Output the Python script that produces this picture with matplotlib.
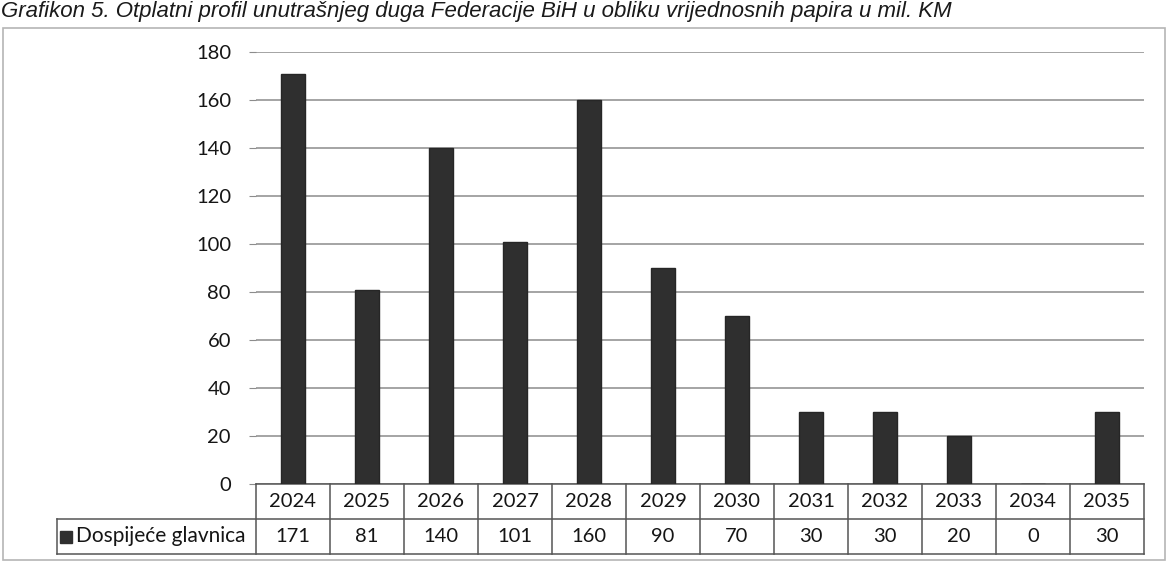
import matplotlib
matplotlib.use('Agg')
import matplotlib.pyplot as plt
from matplotlib.patches import Rectangle
from matplotlib.transforms import blended_transform_factory

# Data
years = ['2024', '2025', '2026', '2027', '2028', '2029', '2030', '2031', '2032', '2033', '2034', '2035']
glavnica = [171, 81, 140, 101, 160, 90, 70, 30, 30, 20, 0, 30]
series_name = 'Dospijeće glavnica'
title = 'Grafikon 5. Otplatni profil unutrašnjeg duga Federacije BiH u obliku vrijednosnih papira u mil. KM'
yticks = list(range(0, 181, 20))

W, H = 1169, 568
fig = plt.figure(figsize=(W / 100, H / 100), dpi=100)
fig.patch.set_facecolor('white')

# outer chart frame
fig.patches.append(Rectangle((3 / W, 1 - 560 / H), 1162 / W, 532 / H, transform=fig.transFigure,
                             fill=False, edgecolor='#b5b5b5', lw=1.2))

# title (italic, sits right at the top edge like in the scan)
fig.text(1 / W, 1 - 17 / H, title, fontsize=16, style='italic', family='Liberation Sans',
         color='#1a1a1a', va='baseline', ha='left')

ax = fig.add_axes([256 / W, 1 - 484 / H, 888 / W, 432 / H])
x = list(range(len(years)))
ax.bar(x, glavnica, width=0.33, color='#2f2f2f', edgecolor='#262626', zorder=3)
ax.set_xlim(-0.5, len(years) - 0.5)
ax.set_ylim(0, 180)
ax.set_yticks(yticks)
ax.set_yticklabels([str(v) for v in yticks], family='Lato', fontsize=14.5, color='#151515')
ax.set_xticks([])
ax.grid(axis='y', color='#8c8c8c', lw=1.1, zorder=0)
ax.tick_params(axis='y', length=5, color='#8c8c8c', pad=13)
for s in ax.spines.values():
    s.set_visible(False)

# data table under the plot
tr = blended_transform_factory(ax.transData, ax.transAxes)
rh = 35 / 432
left = -0.5
right = len(years) - 0.5
lab_left = (57 - 256) / 74 - 0.5
lc = '#555555'
kw = dict(transform=tr, color=lc, lw=1.1, clip_on=False)
ax.plot([left, right], [0, 0], **kw)
ax.plot([lab_left, right], [-rh, -rh], **kw)
ax.plot([lab_left, right], [-2 * rh, -2 * rh], **kw)
for i in range(len(years) + 1):
    ax.plot([i - 0.5, i - 0.5], [0, -2 * rh], **kw)
ax.plot([lab_left, lab_left], [-rh, -2 * rh], **kw)

for i, (yr, v) in enumerate(zip(years, glavnica)):
    ax.text(i, -rh / 2, yr, transform=tr, ha='center', va='center',
            family='Lato', fontsize=14.5, color='#151515')
    ax.text(i, -1.5 * rh, str(v), transform=tr, ha='center', va='center',
            family='Lato', fontsize=14.5, color='#151515')

ax.plot([(66 - 256) / 74 - 0.5], [-1.5 * rh], marker='s', markersize=8,
        color='#2f2f2f', transform=tr, clip_on=False)
ax.text((76 - 256) / 74 - 0.5, -1.5 * rh, series_name, transform=tr, ha='left', va='center',
        family='Lato', fontsize=15, color='#151515')

fig.savefig('out.png', dpi=100)
